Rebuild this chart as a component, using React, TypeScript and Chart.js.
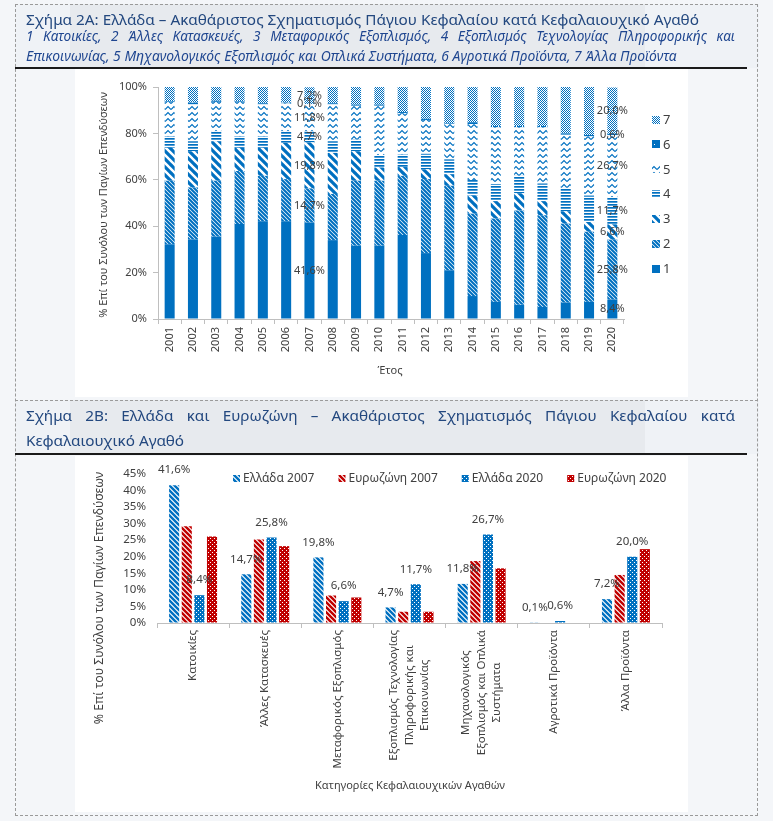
import React, { useEffect, useRef } from 'react';
import { Chart, registerables } from 'chart.js';
Chart.register(...registerables);

const FONT = "'Noto Sans', 'DejaVu Sans', sans-serif";
const BLUE = '#0070C0';
const RED = '#C00000';
const TEXT = '#404040';
const AXIS = '#bfbfbf';
const TITLE = '#23487f';
const SUB = '#1f4690';

// ---------- Chart 2A data ----------
const years = ['2001', '2002', '2003', '2004', '2005', '2006', '2007', '2008', '2009', '2010',
  '2011', '2012', '2013', '2014', '2015', '2016', '2017', '2018', '2019', '2020'];
const seriesLabels = ['1', '2', '3', '4', '5', '6', '7'];
const s1 = [32.2, 34.3, 35.5, 40.9, 42.1, 42.1, 41.6, 34.0, 31.6, 31.6, 36.2, 28.4, 21.0, 9.9, 7.4, 6.1, 5.2, 7.1, 7.4, 8.4];
const s2 = [27.4, 22.4, 24.1, 22.9, 19.6, 18.2, 14.7, 19.9, 28.0, 28.0, 25.5, 31.9, 36.4, 35.5, 35.9, 40.7, 39.5, 34.0, 30.2, 25.8];
const s3 = [14.2, 15.6, 17.0, 10.0, 12.1, 15.6, 19.8, 17.7, 12.7, 5.7, 3.8, 4.2, 5.0, 7.8, 7.5, 7.4, 6.1, 5.3, 4.2, 6.6];
const s4 = [4.9, 4.3, 4.3, 4.9, 4.9, 5.0, 4.7, 5.0, 5.0, 5.4, 5.4, 6.7, 6.4, 6.7, 7.4, 7.5, 7.6, 10.1, 11.4, 11.7];
const s5 = [14.9, 15.9, 12.7, 14.9, 13.8, 12.0, 11.8, 15.9, 14.6, 21.2, 17.8, 14.6, 15.3, 24.1, 24.4, 20.9, 24.2, 22.9, 25.5, 26.7];
const s6 = [0.3, 0.8, 0.5, 0.3, 0.5, 0.4, 0.1, 0.5, 0.5, 0.5, 0.5, 0.5, 0.3, 0.8, 0.6, 0.6, 0.6, 0.6, 0.6, 0.6];
const s7 = [6.1, 6.7, 5.9, 6.1, 7.0, 6.7, 7.2, 7.0, 7.6, 7.6, 10.8, 13.7, 15.6, 15.2, 16.8, 16.8, 16.8, 20.0, 20.7, 20.0];
const labeledYears = ['2007', '2020'];
const ticks2A = [0, 20, 40, 60, 80, 100];

// ---------- Chart 2B data ----------
const categories = [
  ['Κατοικίες'],
  ['Άλλες Κατασκευές'],
  ['Μεταφορικός Εξοπλισμός'],
  ['Εξοπλισμός Τεχνολογίας', 'Πληροφορικής και', 'Επικοινωνίας'],
  ['Μηχανολογικός', 'Εξοπλισμός και Οπλικά', 'Συστήματα'],
  ['Αγροτικά Προϊόντα'],
  ['Άλλα Προϊόντα'],
];
const seriesNames = ['Ελλάδα 2007', 'Ευρωζώνη 2007', 'Ελλάδα 2020', 'Ευρωζώνη 2020'];
const gr2007 = [41.6, 14.7, 19.8, 4.7, 11.8, 0.1, 7.2];
const ez2007 = [29.2, 25.2, 8.3, 3.4, 18.7, 0.0, 14.5];
const gr2020 = [8.4, 25.8, 6.6, 11.7, 26.7, 0.6, 20.0];
const ez2020 = [26.1, 23.2, 7.7, 3.4, 16.5, 0.0, 22.3];
const labeledSeries = ['Ελλάδα 2007', 'Ελλάδα 2020'];
const ticks2B = [0, 5, 10, 15, 20, 25, 30, 35, 40, 45];

const fmt = (v: number) => v.toFixed(1).replace('.', ',') + '%';

function tile(main: CanvasRenderingContext2D, w: number, h: number, draw: (c: CanvasRenderingContext2D) => void): CanvasPattern {
  const cv = document.createElement('canvas');
  cv.width = w; cv.height = h;
  const c = cv.getContext('2d')!;
  draw(c);
  return main.createPattern(cv, 'repeat')!;
}

function diag(main: CanvasRenderingContext2D, p: number, lw: number, color: string) {
  return tile(main, p, p, (c) => {
    c.fillStyle = '#fff'; c.fillRect(0, 0, p, p);
    c.strokeStyle = color; c.lineWidth = lw;
    c.beginPath();
    for (let k = -1; k <= 1; k++) { c.moveTo(k * p - 1, -1); c.lineTo(k * p + p + 1, p + 1); }
    c.stroke();
  });
}

function dots(main: CanvasRenderingContext2D, color: string) {
  return tile(main, 4, 4, (c) => {
    c.fillStyle = color; c.fillRect(0, 0, 4, 4);
    c.fillStyle = '#fff'; c.fillRect(1, 0, 1, 1); c.fillRect(3, 2, 1, 1);
  });
}

function patterns2A(main: CanvasRenderingContext2D) {
  const p1 = BLUE;
  const p2 = diag(main, 4, 2.1, BLUE);
  const p3 = diag(main, 8, 3.2, BLUE);
  const p4 = tile(main, 4, 3, (c) => { c.fillStyle = '#fff'; c.fillRect(0, 0, 4, 3); c.fillStyle = BLUE; c.fillRect(0, 0, 4, 1.7); });
  const p5 = tile(main, 6, 6, (c) => {
    c.fillStyle = '#fff'; c.fillRect(0, 0, 6, 6);
    c.strokeStyle = BLUE; c.lineWidth = 1.2; c.lineJoin = 'miter';
    c.beginPath(); c.moveTo(0, 4.5); c.lineTo(3, 1.5); c.lineTo(6, 4.5); c.stroke();
  });
  const p6 = tile(main, 6, 6, (c) => { c.fillStyle = BLUE; c.fillRect(0, 0, 6, 6); c.fillStyle = '#fff'; c.fillRect(3, 3, 1, 1); });
  const p7 = tile(main, 2, 2, (c) => { c.fillStyle = '#fff'; c.fillRect(0, 0, 2, 2); c.fillStyle = BLUE; c.fillRect(0, 0, 1, 1); c.fillRect(1, 1, 1, 1); });
  return [p1, p2, p3, p4, p5, p6, p7];
}

type TitleSpec = { text: string; x: number; y: number; size: number };
function titlesPlugin(yt: TitleSpec, xt: TitleSpec) {
  return {
    id: 'axisTitles',
    afterDraw(chart: any) {
      const ctx = chart.ctx as CanvasRenderingContext2D;
      ctx.save();
      ctx.fillStyle = TEXT;
      ctx.textAlign = 'center'; ctx.textBaseline = 'middle';
      ctx.font = `${yt.size}px ${FONT}`;
      ctx.translate(yt.x, yt.y); ctx.rotate(-Math.PI / 2);
      ctx.fillText(yt.text, 0, 0);
      ctx.restore();
      ctx.save();
      ctx.fillStyle = TEXT;
      ctx.textAlign = 'center'; ctx.textBaseline = 'middle';
      ctx.font = `${xt.size}px ${FONT}`;
      ctx.fillText(xt.text, xt.x, xt.y);
      ctx.restore();
    },
  };
}

function Chart2A() {
  const ref = useRef<HTMLCanvasElement>(null);
  useEffect(() => {
    const cv = ref.current!;
    const main = cv.getContext('2d')!;
    const pats = patterns2A(main);
    const data = [s1, s2, s3, s4, s5, s6, s7];
    const labelsPlugin = {
      id: 'labels2A',
      afterDatasetsDraw(chart: any) {
        const ctx = chart.ctx as CanvasRenderingContext2D;
        ctx.save();
        ctx.fillStyle = TEXT; ctx.font = `11px ${FONT}`;
        ctx.textAlign = 'center'; ctx.textBaseline = 'middle';
        chart.data.datasets.forEach((ds: any, di: number) => {
          const meta = chart.getDatasetMeta(di);
          labeledYears.forEach((yr) => {
            const j = years.indexOf(yr);
            const el: any = meta.data[j];
            ctx.fillText(fmt(ds.data[j]), el.x, (el.y + el.base) / 2);
          });
        });
        ctx.restore();
      },
    };
    const legendPlugin = {
      id: 'legend2A',
      afterDraw(chart: any) {
        const ctx = chart.ctx as CanvasRenderingContext2D;
        const x0 = chart.chartArea.right + 28;
        const y0 = chart.chartArea.top + 32.5;
        ctx.save();
        ctx.font = `13px ${FONT}`; ctx.fillStyle = TEXT;
        ctx.textAlign = 'left'; ctx.textBaseline = 'middle';
        for (let k = 0; k < 7; k++) {
          const i = 6 - k;
          const y = y0 + k * 24.9;
          ctx.fillStyle = pats[i] as any;
          ctx.fillRect(x0, Math.round(y - 4), 8, 8);
          ctx.fillStyle = TEXT;
          ctx.fillText(seriesLabels[i], x0 + 11, y + 0.5);
        }
        ctx.restore();
      },
    };
    const chart = new Chart(cv, {
      type: 'bar',
      data: {
        labels: years,
        datasets: data.map((d, i) => ({
          label: seriesLabels[i], data: d, backgroundColor: pats[i] as any,
          borderWidth: 0, barPercentage: 0.43, categoryPercentage: 1,
        })),
      },
      options: {
        responsive: false, animation: false, devicePixelRatio: 1,
        layout: { padding: { left: 0, right: 64, top: 18, bottom: 0 } },
        plugins: { legend: { display: false }, tooltip: { enabled: false } },
        scales: {
          x: {
            stacked: true,
            grid: { display: true, drawOnChartArea: false, drawTicks: true, tickLength: 5, color: AXIS, offset: true },
            border: { color: AXIS },
            ticks: { autoSkip: false, minRotation: 90, maxRotation: 90, padding: 3, color: TEXT, font: { family: FONT, size: 11 } },
            afterFit: (s: any) => { s.height = 78; },
          },
          y: {
            stacked: true, min: 0, max: 100,
            afterBuildTicks: (s: any) => { s.ticks = ticks2A.map((v) => ({ value: v })); },
            ticks: { autoSkip: false, callback: (v: any) => v + '%', padding: 6, color: TEXT, font: { family: FONT, size: 11 } },
            grid: { display: true, drawOnChartArea: false, drawTicks: true, tickLength: 5, color: AXIS },
            border: { color: AXIS },
            afterFit: (s: any) => { s.width = 83; },
          },
        },
      },
      plugins: [labelsPlugin, legendPlugin,
        titlesPlugin({ text: '% Επί του Συνόλου των Παγίων Επενδύσεων', x: 29, y: 136, size: 11 },
          { text: 'Έτος', x: 315, y: 302, size: 11 })],
    } as any);
    return () => chart.destroy();
  }, []);
  return <canvas ref={ref} width={613} height={328} style={{ display: 'block' }} />;
}

function Chart2B() {
  const ref = useRef<HTMLCanvasElement>(null);
  useEffect(() => {
    const cv = ref.current!;
    const main = cv.getContext('2d')!;
    const pats = [diag(main, 5, 2.4, BLUE), diag(main, 5, 2.4, RED), dots(main, BLUE), dots(main, RED)];
    const data = [gr2007, ez2007, gr2020, ez2020];
    const labelsPlugin = {
      id: 'labels2B',
      afterDatasetsDraw(chart: any) {
        const ctx = chart.ctx as CanvasRenderingContext2D;
        ctx.save();
        ctx.fillStyle = TEXT; ctx.font = `11.5px ${FONT}`;
        ctx.textAlign = 'center'; ctx.textBaseline = 'middle';
        chart.data.datasets.forEach((ds: any, di: number) => {
          if (!labeledSeries.includes(ds.label)) return;
          const meta = chart.getDatasetMeta(di);
          meta.data.forEach((el: any, j: number) => {
            ctx.fillText(fmt(ds.data[j]), el.x, el.y - 15);
          });
        });
        ctx.restore();
      },
    };
    const xLabelsPlugin = {
      id: 'xlabels2B',
      afterDraw(chart: any) {
        const ctx = chart.ctx as CanvasRenderingContext2D;
        const xs = chart.scales.x;
        const yTop = xs.top + 7;
        const lh = 15.5;
        ctx.save();
        ctx.fillStyle = TEXT; ctx.font = `11.5px ${FONT}`;
        ctx.textAlign = 'center'; ctx.textBaseline = 'middle';
        categories.forEach((lines, i) => {
          const px = xs.getPixelForTick(i);
          const maxW = Math.max(...lines.map((l) => ctx.measureText(l).width));
          lines.forEach((l, k) => {
            const x = px + (k - (lines.length - 1) / 2) * lh;
            ctx.save();
            ctx.translate(x, yTop); ctx.rotate(-Math.PI / 2);
            ctx.fillText(l, -maxW / 2, 0);
            ctx.restore();
          });
        });
        ctx.restore();
      },
    };
    const legendPlugin = {
      id: 'legend2B',
      afterDraw(chart: any) {
        const ctx = chart.ctx as CanvasRenderingContext2D;
        let x = 158;
        const y = 23;
        ctx.save();
        ctx.font = `12px ${FONT}`;
        ctx.textAlign = 'left'; ctx.textBaseline = 'middle';
        seriesNames.forEach((n, i) => {
          ctx.fillStyle = pats[i] as any;
          ctx.fillRect(x, y - 4, 7, 7);
          ctx.fillStyle = TEXT;
          ctx.fillText(n, x + 10, y);
          x += 10 + ctx.measureText(n).width + 24;
        });
        ctx.restore();
      },
    };
    const chart = new Chart(cv, {
      type: 'bar',
      data: {
        labels: categories.map((c) => c.join(' ')),
        datasets: data.map((d, i) => ({
          label: seriesNames[i], data: d, backgroundColor: pats[i] as any,
          borderWidth: 0, barPercentage: 0.8, categoryPercentage: 0.7,
        })),
      },
      options: {
        responsive: false, animation: false, devicePixelRatio: 1,
        layout: { padding: { left: 0, right: 26, top: 17, bottom: 0 } },
        plugins: { legend: { display: false }, tooltip: { enabled: false } },
        scales: {
          x: {
            grid: { display: true, drawOnChartArea: false, drawTicks: true, tickLength: 5, color: AXIS, offset: true },
            border: { color: AXIS },
            ticks: { display: false },
            afterFit: (s: any) => { s.height = 189; },
          },
          y: {
            min: 0, max: 45,
            afterBuildTicks: (s: any) => { s.ticks = ticks2B.map((v) => ({ value: v })); },
            ticks: { autoSkip: false, callback: (v: any) => v + '%', padding: 11, color: TEXT, font: { family: FONT, size: 11.5 } },
            grid: { display: true, drawOnChartArea: false, drawTicks: false },
            border: { display: false },
            afterFit: (s: any) => { s.width = 82; },
          },
        },
      },
      plugins: [labelsPlugin, xLabelsPlugin, legendPlugin,
        titlesPlugin({ text: '% Επί του Συνόλου των Παγίων Επενδύσεων', x: 24, y: 142, size: 12.3 },
          { text: 'Κατηγορίες Κεφαλαιουχικών Αγαθών', x: 335, y: 330, size: 11 })],
    } as any);
    return () => chart.destroy();
  }, []);
  return <canvas ref={ref} width={613} height={356} style={{ display: 'block' }} />;
}

const abs = (l: number, t: number, w: number, h: number, extra: React.CSSProperties = {}): React.CSSProperties =>
  ({ position: 'absolute', left: l, top: t, width: w, height: h, ...extra });

export default function App() {
  const bandOuter = '#eff2f6';
  const bandInner = '#e7eaee';
  const titleStyle: React.CSSProperties = { fontSize: 15.3, lineHeight: '22px', color: TITLE, whiteSpace: 'nowrap' };
  return (
    <div style={{ position: 'absolute', left: 0, top: 0, width: 773, height: 821, background: '#f4f6f9', overflow: 'hidden', fontFamily: FONT }}>
      {/* bands */}
      <div style={abs(15, 4, 744, 64, { background: bandOuter })} />
      <div style={abs(70, 4, 575, 64, { background: bandInner })} />
      <div style={abs(15, 400, 744, 54, { background: bandOuter })} />
      <div style={abs(70, 400, 575, 54, { background: bandInner })} />
      {/* chart areas */}
      <div style={abs(75, 69, 613, 328, { background: '#fff' })}><Chart2A /></div>
      <div style={abs(75, 456, 613, 356, { background: '#fff' })}><Chart2B /></div>
      {/* borders */}
      <div style={abs(15, 4, 743, 812, { border: '1px dashed #9a9a9a', boxSizing: 'border-box' })} />
      <div style={abs(15, 400, 743, 0, { borderTop: '1px dashed #9a9a9a' })} />
      <div style={abs(15, 67, 732, 2, { background: '#1a1a1a' })} />
      <div style={abs(15, 453, 732, 2, { background: '#1a1a1a' })} />
      {/* titles */}
      <div style={{ position: 'absolute', left: 26, top: 8, ...titleStyle }}>
        Σχήμα 2A: Ελλάδα – Ακαθάριστος Σχηματισμός Πάγιου Κεφαλαίου κατά Κεφαλαιουχικό Αγαθό
      </div>
      <div style={{ position: 'absolute', left: 26, top: 25, width: 709, fontSize: 13.6, lineHeight: '22px', fontStyle: 'italic', color: SUB, textAlign: 'justify', textAlignLast: 'justify' as any, whiteSpace: 'nowrap' }}>
        1 Κατοικίες, 2 Άλλες Κατασκευές, 3 Μεταφορικός Εξοπλισμός, 4 Εξοπλισμός Τεχνολογίας Πληροφορικής και
      </div>
      <div style={{ position: 'absolute', left: 26, top: 45, fontSize: 13.9, lineHeight: '22px', fontStyle: 'italic', color: SUB, whiteSpace: 'nowrap' }}>
        Επικοινωνίας, 5 Μηχανολογικός Εξοπλισμός και Οπλικά Συστήματα, 6 Αγροτικά Προϊόντα, 7 Άλλα Προϊόντα
      </div>
      <div style={{ position: 'absolute', left: 26, top: 404, width: 709, fontSize: 15.3, lineHeight: '22px', color: TITLE, textAlign: 'justify', textAlignLast: 'justify' as any }}>
        Σχήμα 2B: Ελλάδα και Ευρωζώνη – Ακαθάριστος Σχηματισμός Πάγιου Κεφαλαίου κατά
      </div>
      <div style={{ position: 'absolute', left: 26, top: 429, fontSize: 15.3, lineHeight: '22px', color: TITLE, whiteSpace: 'nowrap' }}>
        Κεφαλαιουχικό Αγαθό
      </div>
    </div>
  );
}
